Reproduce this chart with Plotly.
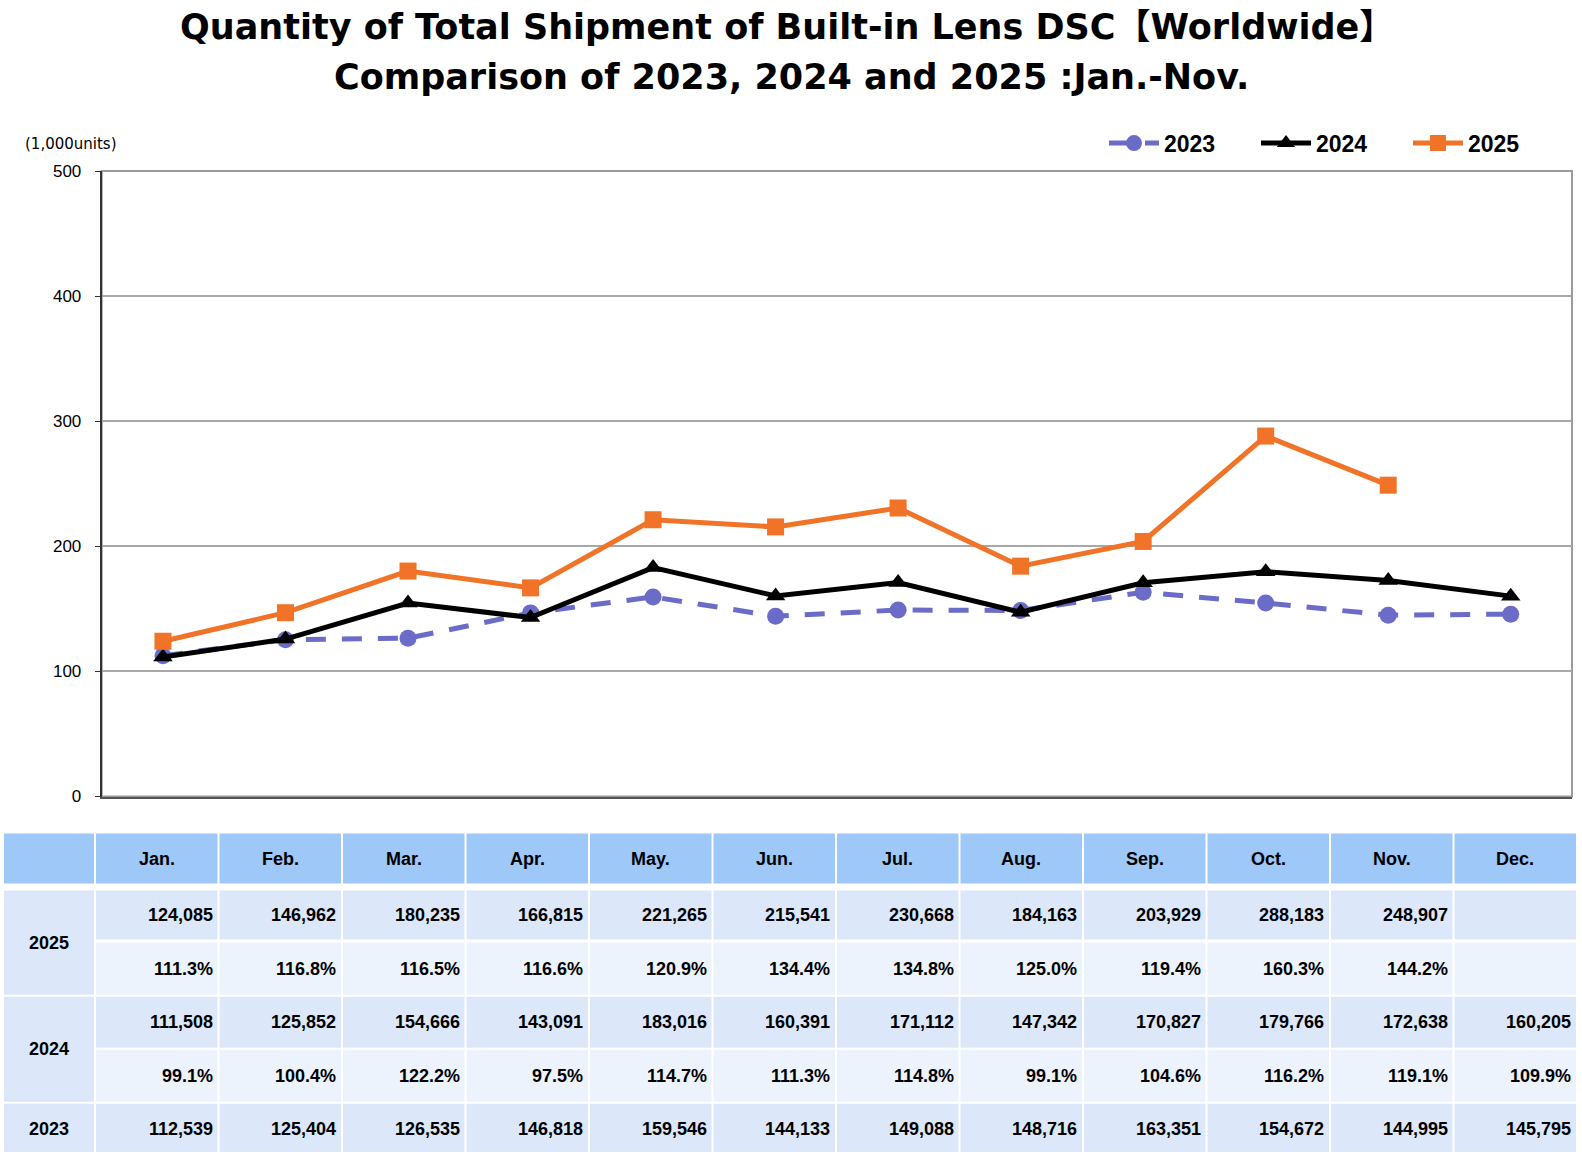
import plotly.graph_objects as go

W, H = 1582, 1162

months = ['Jan.', 'Feb.', 'Mar.', 'Apr.', 'May.', 'Jun.', 'Jul.', 'Aug.', 'Sep.', 'Oct.', 'Nov.', 'Dec.']
v2025 = [124085, 146962, 180235, 166815, 221265, 215541, 230668, 184163, 203929, 288183, 248907, None]
p2025 = ['111.3%', '116.8%', '116.5%', '116.6%', '120.9%', '134.4%', '134.8%', '125.0%', '119.4%', '160.3%', '144.2%', '']
v2024 = [111508, 125852, 154666, 143091, 183016, 160391, 171112, 147342, 170827, 179766, 172638, 160205]
p2024 = ['99.1%', '100.4%', '122.2%', '97.5%', '114.7%', '111.3%', '114.8%', '99.1%', '104.6%', '116.2%', '119.1%', '109.9%']
v2023 = [112539, 125404, 126535, 146818, 159546, 144133, 149088, 148716, 163351, 154672, 144995, 145795]
years = ['2025', '2024', '2023']
y_ticks = [0, 100, 200, 300, 400, 500]

# the rendered page lands slightly compressed vertically in the photo; compensate
SY, OY = 0.983, 9.0


def X(px):
    return px / W


def Y(py):
    v = 1 - ((py - OY) / SY) / H
    return min(1.0, max(0.0, v))


def k(vals):
    return [None if v is None else v / 1000 for v in vals]


def fmt(v):
    return '' if v is None else f'{v:,}'


fig = go.Figure()
fig.add_trace(go.Scatter(
    x=months, y=k(v2023), name='2023', mode='lines+markers',
    line=dict(color='#6B6BC8', width=5, dash='20px,16px'),
    marker=dict(symbol='circle', size=17, color='#6B6BC8')))
fig.add_trace(go.Scatter(
    x=months, y=k(v2024), name='2024', mode='lines+markers',
    line=dict(color='#000000', width=5),
    marker=dict(symbol='triangle-up', size=17, color='#000000')))
fig.add_trace(go.Scatter(
    x=months, y=k(v2025), name='2025', mode='lines+markers',
    line=dict(color='#F07328', width=5),
    marker=dict(symbol='square', size=17, color='#F07328')))

shapes = []
annotations = []

# plot frame (gray top/right)
shapes.append(dict(type='rect', xref='x domain', yref='y domain', x0=0, x1=1, y0=0, y1=1,
                   line=dict(color='#9A9A9A', width=2), layer='below'))

# titles
title_font = dict(family='DejaVu Sans, Noto Sans CJK JP', size=35, color='#000000', weight='bold')
annotations.append(dict(text='Quantity of Total Shipment of Built-in Lens DSC【Worldwide】',
                        x=X(787), y=Y(27), xref='paper', yref='paper', showarrow=False,
                        xanchor='center', yanchor='middle', font=title_font))
annotations.append(dict(text='Comparison of 2023, 2024 and 2025 :Jan.-Nov.',
                        x=X(791), y=Y(77), xref='paper', yref='paper', showarrow=False,
                        xanchor='center', yanchor='middle', font=title_font))
annotations.append(dict(text='(1,000units)', x=X(71), y=Y(144), xref='paper', yref='paper',
                        showarrow=False, xanchor='center', yanchor='middle',
                        font=dict(family='DejaVu Sans', size=15, color='#000000')))

# table
hdr_color = '#9EC8F8'
val_color = '#DCE8FA'
pct_color = '#EDF3FD'
lab_x0, lab_x1 = 4, 94
col_x0 = [96 + i * 123.5 for i in range(12)]
col_w = 121.5
hdr_y0, hdr_y1 = 833, 883
row_y0 = [890, 942, 996, 1049, 1103]
row_y1 = [939, 994, 1047, 1101, 1154]
row_fill = [val_color, pct_color, val_color, pct_color, val_color]
row_text = [[fmt(v) for v in v2025], p2025, [fmt(v) for v in v2024], p2024, [fmt(v) for v in v2023]]
label_rows = [(0, 1), (2, 3), (4, 4)]

cell_font = dict(family='Liberation Sans', size=18, color='#000000', weight='bold')


def rect(x0, x1, y0, y1, color):
    shapes.append(dict(type='rect', xref='paper', yref='paper', x0=X(x0), x1=X(x1),
                       y0=Y(y1), y1=Y(y0), fillcolor=color, line=dict(width=0), layer='below'))


rect(lab_x0, lab_x1, hdr_y0, hdr_y1, hdr_color)
for i, m in enumerate(months):
    rect(col_x0[i], col_x0[i] + col_w, hdr_y0, hdr_y1, hdr_color)
    annotations.append(dict(text=m, x=X(col_x0[i] + col_w / 2), y=Y((hdr_y0 + hdr_y1) / 2),
                            xref='paper', yref='paper', showarrow=False, xanchor='center',
                            yanchor='middle', font=cell_font))

for yr, (r0, r1) in zip(years, label_rows):
    rect(lab_x0, lab_x1, row_y0[r0], row_y1[r1], val_color)
    annotations.append(dict(text=yr, x=X((lab_x0 + lab_x1) / 2),
                            y=Y((row_y0[r0] + row_y1[r1]) / 2), xref='paper', yref='paper',
                            showarrow=False, xanchor='center', yanchor='middle', font=cell_font))

for r in range(5):
    for i in range(12):
        rect(col_x0[i], col_x0[i] + col_w, row_y0[r], row_y1[r], row_fill[r])
        t = row_text[r][i]
        if t:
            annotations.append(dict(text=t, x=X(col_x0[i] + col_w - 3),
                                    y=Y((row_y0[r] + row_y1[r]) / 2), xref='paper',
                                    yref='paper', showarrow=False, xanchor='right',
                                    yanchor='middle', font=cell_font))

fig.update_layout(
    width=W, height=H, autosize=False,
    margin=dict(l=0, r=0, t=0, b=0),
    paper_bgcolor='white', plot_bgcolor='white',
    showlegend=True,
    legend=dict(orientation='h', x=X(1104), xanchor='left', y=Y(143), yanchor='middle',
                font=dict(family='Liberation Sans', size=23, color='#000000', weight='bold'),
                entrywidth=87, entrywidthmode='pixels', itemwidth=50,
                bgcolor='rgba(0,0,0,0)'),
    xaxis=dict(domain=[X(101.7), X(1572)], range=[-0.5, 11.5], type='category',
               showticklabels=False, ticks='', showgrid=False, zeroline=False,
               showline=True, linecolor='#555555', linewidth=2, fixedrange=True),
    yaxis=dict(domain=[Y(796), Y(171)], range=[0, 500], tickvals=y_ticks,
               ticks='outside', ticklen=5, tickcolor='#333333', ticklabelstandoff=10,
               showgrid=True, gridcolor='#A8A8A8', gridwidth=1.5, zeroline=False,
               showline=True, linecolor='#333333', linewidth=2,
               tickfont=dict(family='Liberation Sans', size=17, color='#000000'),
               fixedrange=True),
    shapes=shapes,
    annotations=annotations,
)

post = ("document.body.style.margin='0';document.body.style.padding='0';"
        "document.body.style.overflow='hidden';document.documentElement.style.overflow='hidden';")

fig.write_html('out.html', config={'displayModeBar': False}, post_script=post)
